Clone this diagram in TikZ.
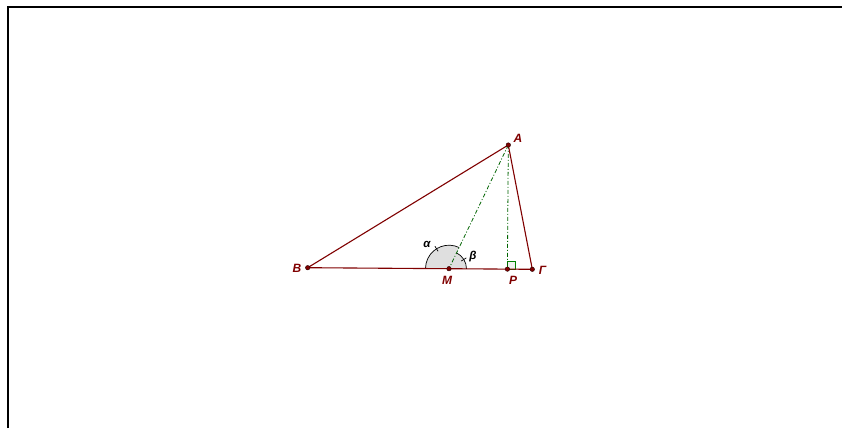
\documentclass[tikz,border=0pt]{standalone}
\usepackage{fontspec}
\setmainfont{Liberation Sans}
\usetikzlibrary{calc}
\definecolor{dred}{RGB}{128,0,0}
\definecolor{dgreen}{RGB}{0,100,0}
\tikzset{
  edge/.style={draw=dred, line width=1.1pt},
  aux/.style={draw=dgreen, line width=0.8pt, dash pattern=on 4pt off 2pt on 1pt off 2pt},
  pt/.style={circle, fill=dred, draw=black!70!dred, inner sep=0pt, minimum size=4.5pt},
  lbl/.style={text=dred, font=\fontsize{12}{14}\selectfont\bfseries\itshape, inner sep=0pt},
  glbl/.style={text=black, font=\fontsize{11.5}{14}\selectfont\bfseries\itshape, inner sep=0pt},
}
\begin{document}
\begin{tikzpicture}[x=1pt,y=1pt]
\useasboundingbox (0,0) rectangle (842,428);
\fill[white] (0,0) rectangle (842,428);
\draw[line width=2pt] (8,0) -- (8,421) -- (842,421);
% vertices
\coordinate (A) at (508.3,283);
\coordinate (B) at (307.7,160.3);
\coordinate (G) at (532.3,158.7);
\coordinate (M) at ($(B)!0.629!(G)$);
\coordinate (P) at ($(B)!(A)!(G)$);
% angle sectors
\fill[gray!25] (M) -- ($(M)+(64.4:23.5)$) arc[start angle=64.4,end angle=179.6,radius=23.5] -- cycle;
\draw[black, line width=0.7pt] ($(M)+(64.4:23.5)$) arc[start angle=64.4,end angle=179.6,radius=23.5];
\fill[gray!25] (M) -- ($(M)+(-0.4:17.5)$) arc[start angle=-0.4,end angle=64.4,radius=17.5] -- cycle;
\draw[black, line width=0.7pt] ($(M)+(-0.4:17.5)$) arc[start angle=-0.4,end angle=64.4,radius=17.5];
\draw[black, line width=0.7pt] ($(M)+(122:20.5)$) -- ($(M)+(122:26.5)$);
\draw[black, line width=0.7pt] ($(M)+(32:14.5)$) -- ($(M)+(32:20.5)$);
% right angle mark
\filldraw[draw=dgreen!80!green, fill=green!10!gray!12, line width=0.6pt] (P) rectangle ($(P)+(8,8)$);
% auxiliary lines
\draw[aux] (A) -- (M);
\draw[aux] (A) -- (P);
% triangle
\draw[edge] (B) -- (A) -- (G) -- (B);
% points
\node[pt] (nA) at (A) {};
\node[pt] (nB) at (B) {};
\node[pt] (nG) at (G) {};
\node[pt] (nM) at (M) {};
\node[pt] (nP) at (P) {};
% labels
\node[lbl] (lA) at (518,290) {A};
\node[lbl] (lB) at (297,159.5) {B};
\node[lbl] (lG) at (542.5,158) {Γ};
\node[lbl] (lM) at (447,148) {M};
\node[lbl] (lP) at (513,147.5) {P};
\node[glbl] (la) at (427,184) {α};
\node[glbl] (lb) at (473,171) {β};
\end{tikzpicture}
\end{document}
